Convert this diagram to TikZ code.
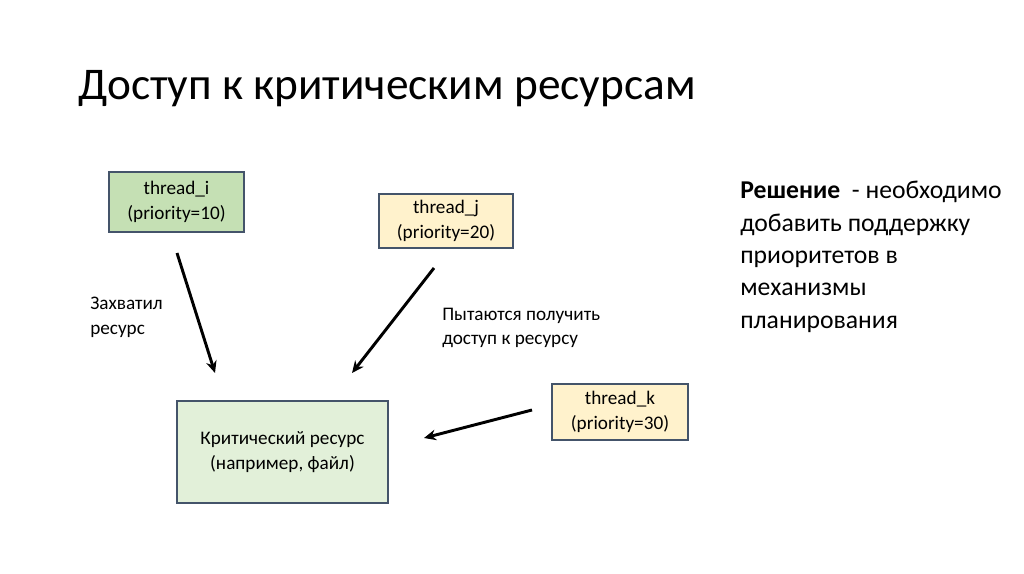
\documentclass[tikz,border=0pt]{standalone}
\usepackage{fontspec}
\setmainfont{Carlito}
\usetikzlibrary{arrows.meta}
\definecolor{edgec}{HTML}{44546A}
\definecolor{greenA}{HTML}{C5E0B4}
\definecolor{greenB}{HTML}{E2F0D9}
\definecolor{yelA}{HTML}{FFF2CC}
\tikzset{
  box/.style={draw=edgec, line width=1.1pt, align=center, inner sep=0pt, font=\fontsize{14.4}{18.75}\selectfont},
  lbl/.style={anchor=base west, inner sep=0pt, align=left, font=\fontsize{14.4}{18.75}\selectfont},
  arr/.style={line width=2.2pt, -{Stealth[length=9pt,width=8pt]}}
}
\begin{document}
\begin{tikzpicture}[x=0.75pt,y=-0.75pt]
\useasboundingbox (0,0) rectangle (1024,574);
\node[anchor=base west, inner sep=0pt, font=\fontsize{34}{40}\selectfont] (title) at (78,100) {Доступ к критическим ресурсам};
\node[box, fill=greenA, minimum width=101.25pt, minimum height=45pt] (ti) at (176.5,202) {thread\_i\\(priority=10)};
\node[box, fill=yelA, minimum width=100.5pt, minimum height=40.5pt] (tj) at (446,221) {thread\_j\\(priority=20)};
\node[box, fill=yelA, minimum width=102pt, minimum height=42pt] (tk) at (620,412) {thread\_k\\(priority=30)};
\node[box, fill=greenB, minimum width=158.25pt, minimum height=76.5pt] (cr) at (282.5,452) {Критический ресурс\\(например, файл)};
\node[lbl] (l1) at (90,334) {Захватил\\ресурс};
\node[lbl, font=\fontsize{14.4}{17.5}\selectfont] (l2) at (442,344) {Пытаются получить\\доступ к ресурсу};
\node[anchor=base west, inner sep=0pt, align=left, font=\fontsize{19.25}{24.2}\selectfont] (sol) at (740,328) {\textbf{Решение}\ \ - необходимо\\добавить поддержку\\приоритетов в\\механизмы\\планирования};
\coordinate (a1s) at (177,253); \coordinate (a1e) at (215,373);
\coordinate (a2s) at (434,268); \coordinate (a2e) at (352,373);
\coordinate (a3s) at (532,410); \coordinate (a3e) at (424,438);
\draw[arr] (a1s) -- (a1e);
\draw[arr] (a2s) -- (a2e);
\draw[arr] (a3s) -- (a3e);
\end{tikzpicture}
\end{document}
